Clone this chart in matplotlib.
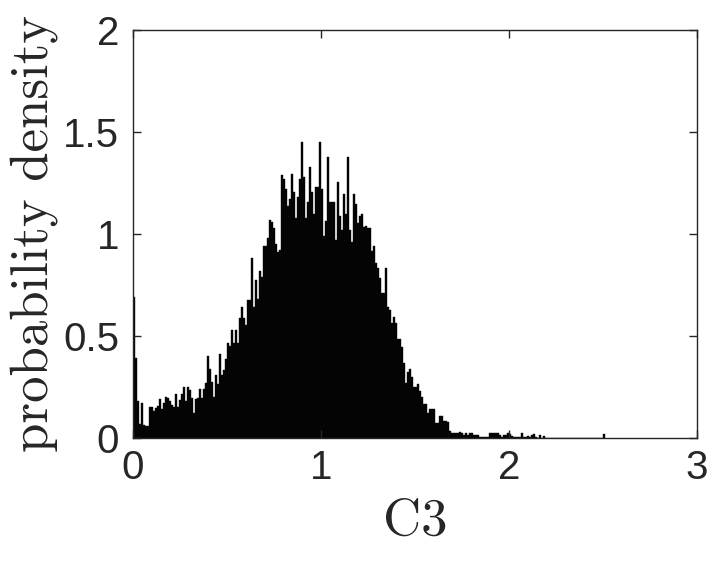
import numpy as np
import matplotlib
matplotlib.use("Agg")
import matplotlib.pyplot as plt

# Histogram heights (probability density), one per bin starting at C3 = 0
bin_width = 0.01064

dens_low = [0.69, 0.39, 0.18, 0.07, 0.17, 0.065, 0.06, 0.06, 0.15, 0.15,
            0.13, 0.145, 0.155, 0.19, 0.14, 0.17, 0.20, 0.195, 0.18, 0.16,
            0.15, 0.215, 0.15, 0.185, 0.215, 0.25, 0.18, 0.25, 0.235, 0.195,
            0.12, 0.19, 0.195, 0.24, 0.195, 0.24, 0.27, 0.40, 0.34]
dens_rise = [0.276, 0.20, 0.31, 0.265, 0.41, 0.31, 0.333, 0.385, 0.467, 0.45,
             0.53, 0.467, 0.53, 0.467, 0.59, 0.64, 0.59, 0.554, 0.676, 0.676,
             0.88, 0.64, 0.775, 0.68, 0.82, 0.79, 0.94, 0.94, 0.98, 1.07,
             1.06, 1.03, 0.95, 0.91, 0.92, 1.29, 1.27]
dens_peak = [1.22, 1.137, 1.17, 1.294, 1.207, 1.077, 1.183, 1.268, 1.45, 1.28,
             1.077, 1.158, 1.33, 1.207, 1.10, 1.232, 1.23, 1.45, 1.22, 0.99,
             1.065, 1.376, 1.158, 1.158, 1.158, 0.97, 1.256, 1.088, 1.02, 1.196,
             1.10, 1.376, 1.02, 0.962, 1.196, 1.147, 1.052, 1.088, 1.10, 1.036]
dens_fall = [1.039, 1.028, 1.028, 0.918, 0.94, 0.856, 0.832, 0.783, 0.709, 0.709,
             0.832, 0.644, 0.627, 0.565, 0.595, 0.565, 0.484, 0.484, 0.448, 0.366,
             0.268, 0.325, 0.337, 0.30, 0.25, 0.25, 0.265, 0.232, 0.202, 0.167,
             0.167, 0.121, 0.14, 0.14, 0.14, 0.072, 0.072, 0.108, 0.108]
dens_tail = [0.085, 0.085, 0.08, 0.036, 0.026, 0.026, 0.026, 0.024, 0.03, 0.024,
             0.016, 0.024, 0.016, 0.024, 0.024, 0.016, 0.016, 0.013, 0.007, 0.007,
             0.005, 0.007, 0.007, 0.024, 0.024, 0.024, 0.024, 0.024, 0.016, 0.007,
             0.016, 0.016, 0.026, 0.02, 0.01, 0.007, 0.007, 0.005, 0.007, 0.024,
             0.007, 0.005, 0.01, 0.007,
             0.016, 0.02, 0.007, 0.0, 0.013, 0.0, 0.012,
             0.0, 0.0, 0.0, 0.0, 0.0, 0.0, 0.0, 0.0, 0.0, 0.0,
             0.0, 0.0, 0.0, 0.0, 0.0, 0.0, 0.0, 0.0, 0.0, 0.0,
             0.0, 0.0, 0.0, 0.0, 0.0, 0.0, 0.0, 0.0, 0.0,
             0.018]

density = np.array(dens_low + dens_rise + dens_peak + dens_fall + dens_tail)
left_edges = np.arange(len(density)) * bin_width

x_ticks = [0, 1, 2, 3]
y_ticks = [0, 0.5, 1, 1.5, 2]
y_ticklabels = ["0", "0.5", "1", "1.5", "2"]

fig = plt.figure(figsize=(7.24, 5.72), dpi=100)
ax = fig.add_axes([0.1837, 0.2343, 0.779, 0.7133])

ax.bar(left_edges, density, width=bin_width, align="edge",
       color="black", edgecolor="#111111", linewidth=0.3)

ax.set_xlim(0, 3)
ax.set_ylim(0, 2)
ax.set_xticks(x_ticks)
ax.set_xticklabels([str(t) for t in x_ticks])
ax.set_yticks(y_ticks)
ax.set_yticklabels(y_ticklabels)

grey = "#262626"
for s in ax.spines.values():
    s.set_color(grey)
    s.set_linewidth(1.0)
ax.tick_params(direction="in", length=6, width=1.0, colors=grey,
               top=True, right=True, labelsize=29)
ax.tick_params(axis="x", pad=8)
ax.tick_params(axis="y", pad=10)
for lab in ax.get_xticklabels() + ax.get_yticklabels():
    lab.set_fontfamily("Liberation Sans")

ax.set_xlabel("C3", fontfamily="cmr10", fontsize=38, color=grey, labelpad=8)
ax.set_ylabel("probability density", fontfamily="cmr10", fontsize=38,
              color=grey, labelpad=4)

fig.savefig("out.png", dpi=100)
